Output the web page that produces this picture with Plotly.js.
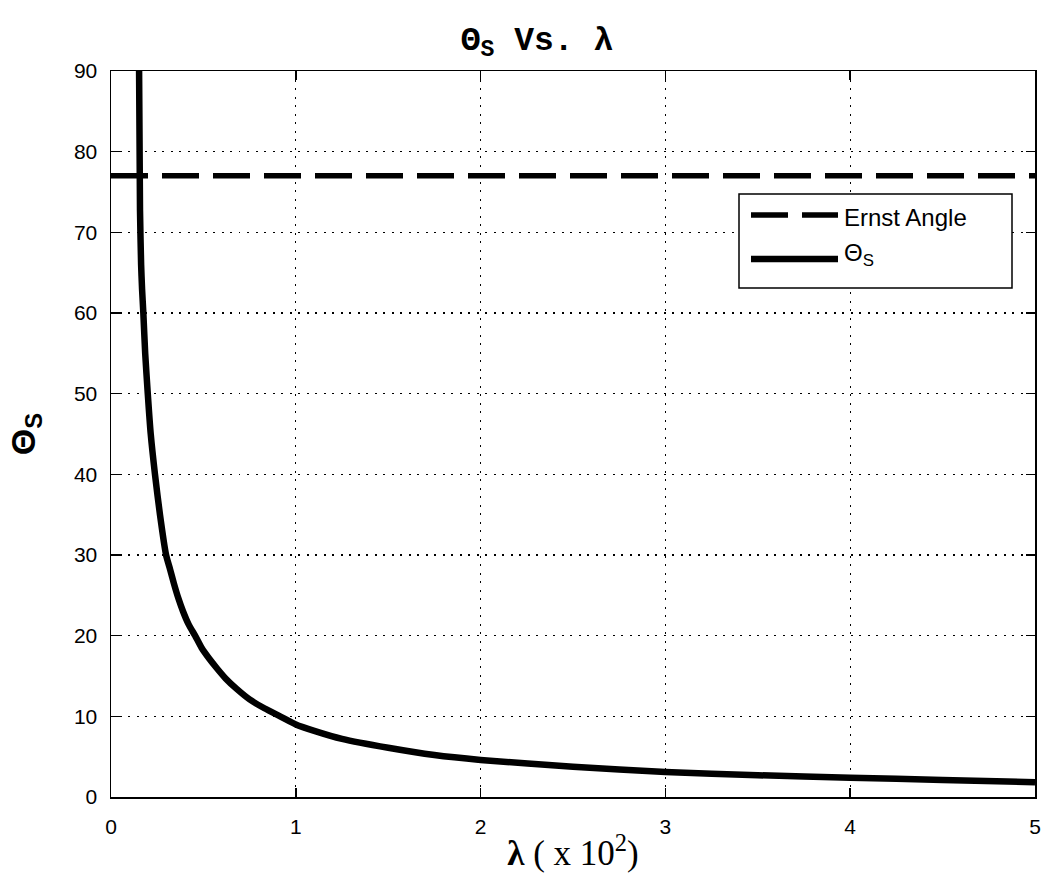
<!DOCTYPE html>
<html>
<head>
<meta charset="utf-8">
<script src="https://cdn.plot.ly/plotly-3.0.1.min.js"></script>
<style>
  html, body { margin:0; padding:0; background:#fff; }
  #chart { width:1050px; height:884px; }
</style>
</head>
<body>
<div id="chart"></div>
<script>
// values
const lambda = [0.152,0.157,0.163,0.168,0.175,0.185,0.199,0.215,0.238,0.265,0.298,0.32,0.34,0.365,0.39,0.42,0.455,0.49,0.53,0.575,0.62,0.68,0.75,0.83,0.915,1.0,1.1,1.25,1.5,1.75,2.0,2.5,3.0,3.5,4.0,4.5,5.0];
const thetaS = [90,72.7,66,63,60,55,50,45,40,35,30,28.2,26.5,24.6,23,21.4,20,18.5,17.2,15.9,14.7,13.4,12.1,11,10,9.0,8.2,7.2,6.1,5.2,4.6,3.75,3.1,2.7,2.4,2.1,1.83];
const ernstX = [0,5];
const ernstY = [77,77];
const legendLabels = ["Ernst Angle", "\u0398<sub>S</sub>"];

// plot area in px (margins match this)
const L = 111, R = 1035, T = 71, B = 797;
const px = x => (x - L) / (R - L);
const py = y => (B - y) / (B - T);

const dashStyle = "37px,14px";

const traces = [
  {
    x: ernstX, y: ernstY,
    type: "scatter", mode: "lines",
    name: legendLabels[0],
    line: { color: "#000", width: 5.5, dash: dashStyle },
    hoverinfo: "skip"
  },
  {
    x: lambda, y: thetaS,
    type: "scatter", mode: "lines",
    name: legendLabels[1],
    line: { color: "#000", width: 6.5, shape: "spline", smoothing: 0.6 },
    hoverinfo: "skip"
  }
];

const axisCommon = {
  showline: true, linecolor: "#000", linewidth: 1.5, mirror: "ticks",
  ticks: "inside", ticklen: 9, tickwidth: 1.5, tickcolor: "#000",
  showgrid: true, gridcolor: "#000", gridwidth: 1.3, griddash: "2px,6.5px",
  zeroline: false,
  tickfont: { family: "Liberation Sans, Arial, sans-serif", size: 21, color: "#000" }
};

// hand-drawn legend box, like the MATLAB one
const shapes = [
  { type:"rect", xref:"paper", yref:"paper", x0:px(739), x1:px(1012), y0:py(194), y1:py(288),
    line:{ color:"#000", width:1.5 }, fillcolor:"#fff", layer:"above" },
  { type:"line", xref:"paper", yref:"paper", x0:px(751), x1:px(838), y0:py(215), y1:py(215),
    line:{ color:"#000", width:5.5, dash:dashStyle }, layer:"above" },
  { type:"line", xref:"paper", yref:"paper", x0:px(751), x1:px(838), y0:py(259), y1:py(259),
    line:{ color:"#000", width:6.5 }, layer:"above" }
];

const annotations = [
  { xref:"paper", yref:"paper", x:px(842), y:py(217), xanchor:"left", yanchor:"middle",
    text: legendLabels[0], showarrow:false,
    font:{ family:"Liberation Sans, Arial, sans-serif", size:24, color:"#000" } },
  { xref:"paper", yref:"paper", x:px(842), y:py(254), xanchor:"left", yanchor:"middle",
    text: legendLabels[1], showarrow:false,
    font:{ family:"Liberation Sans, Arial, sans-serif", size:24, color:"#000" } }
];

const layout = {
  width: 1050, height: 884,
  margin: { l: L, r: 1050 - R, t: T, b: 884 - B },
  paper_bgcolor: "#fff", plot_bgcolor: "#fff",
  showlegend: false,
  title: {
    text: "<b>\u0398<sub>S</sub> Vs. \u03bb</b>",
    x: 537/1050, xanchor: "center", xref: "container",
    y: 1 - 38/884, yanchor: "middle", yref: "container",
    font: { family: "Liberation Mono, Courier New, monospace", size: 33, color: "#000" }
  },
  xaxis: Object.assign({}, axisCommon, {
    range: [0, 5], dtick: 1, tick0: 0,
    ticklabelstandoff: 10,
    title: {
      text: "<b>\u03bb</b> ( x 10<sup>2</sup>)",
      standoff: 4,
      font: { family: "Liberation Serif, DejaVu Serif, serif", size: 35, color: "#000" }
    }
  }),
  yaxis: Object.assign({}, axisCommon, {
    range: [0, 90], dtick: 10, tick0: 0,
    ticklabelstandoff: 8,
    title: {
      text: "<b>\u0398<sub>S</sub></b>",
      standoff: 28,
      font: { family: "Liberation Sans, Arial, sans-serif", size: 34, color: "#000" }
    }
  }),
  shapes, annotations
};

Plotly.newPlot("chart", traces, layout, { displayModeBar: false, staticPlot: true });
</script>
</body>
</html>
